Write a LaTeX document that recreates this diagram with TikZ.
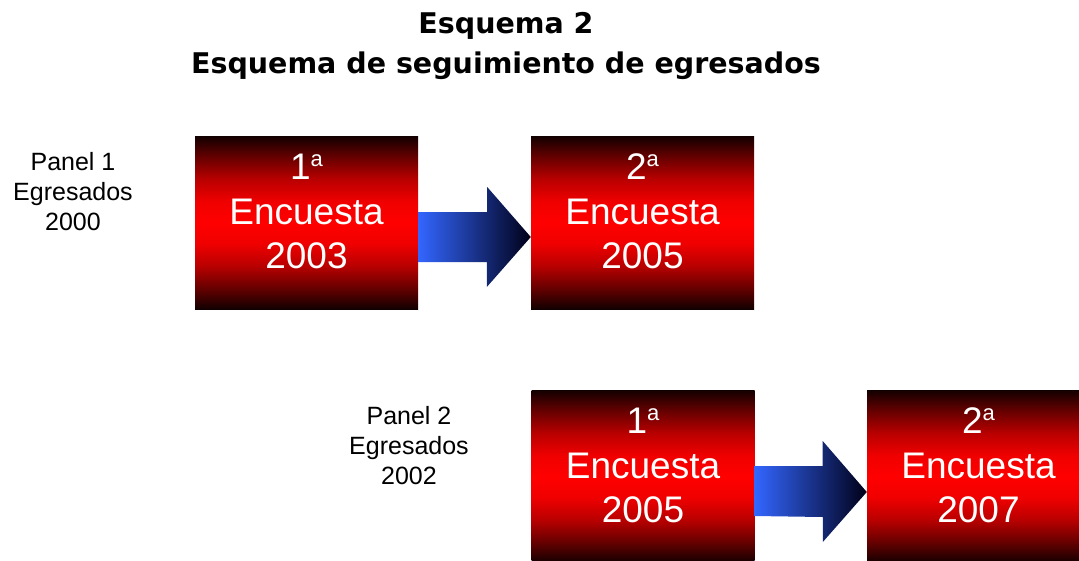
\documentclass[tikz,border=0pt]{standalone}
\usepackage{fontspec}
\setmainfont{Liberation Sans}
\newfontfamily\titulo{DejaVu Sans}
\usetikzlibrary{calc}
\definecolor{azulflecha}{RGB}{51,102,255}
\definecolor{azulmedio}{RGB}{38,76,196}
\definecolor{negroazul}{RGB}{0,0,24}
\definecolor{negrocaja}{RGB}{18,0,0}
\definecolor{rojo1}{RGB}{95,0,0}
\definecolor{rojo2}{RGB}{185,0,0}
\definecolor{rojo3}{RGB}{240,0,0}
\pgfdeclareverticalshading{cajaroja}{100bp}{color(0bp)=(negrocaja); color(25bp)=(negrocaja);
    color(30.5bp)=(rojo1); color(37.5bp)=(rojo2); color(44bp)=(rojo3); color(50bp)=(red);
    color(56bp)=(rojo3); color(62.5bp)=(rojo2); color(69.5bp)=(rojo1);
    color(75bp)=(negrocaja); color(100bp)=(negrocaja)}
\newcommand{\ordinal}{\raisebox{13pt}{\fontsize{22}{22}\selectfont a}}
\tikzset{
    caja/.style={rectangle, minimum width=223pt, minimum height=173pt, inner sep=0pt,
        shading=cajaroja},
    textocaja/.style={text=white, align=center, inner sep=0pt,
        font=\fontsize{37}{44.5}\selectfont},
    panel/.style={align=center, inner sep=0pt, font=\fontsize{25}{30}\selectfont},
    flecha/.style={left color=azulflecha, middle color=azulmedio, right color=negroazul}
}

\begin{document}
\begin{tikzpicture}[x=1pt, y=1pt]
    \useasboundingbox (0,0) rectangle (1079,-560);
    \clip (0,0) rectangle (1079,-560);

    \node[align=center, inner sep=0pt, anchor=north,
        font=\titulo\bfseries\fontsize{28.5}{40}\selectfont] (TITULO) at (506,-12.5)
        {Esquema 2\\Esquema de seguimiento de egresados};

    \node[panel] (PANEL1) at (73,-192) {Panel 1\\Egresados\\2000};
    \node[panel] (PANEL2) at (409,-446) {Panel 2\\Egresados\\2002};

    \node[caja] (ENC1) at (306.5,-222.5) {};
    \node[caja] (ENC2) at (642.5,-222.5) {};
    \node[caja] (ENC3) at (643,-476.5) {};
    \node[caja] (ENC4) at (978.5,-476.5) {};

    \node[textocaja] (ENC1T) at ([yshift=11pt]ENC1.center) {1\ordinal\\Encuesta\\2003};
    \node[textocaja] (ENC2T) at ([yshift=11pt]ENC2.center) {2\ordinal\\Encuesta\\2005};
    \node[textocaja] (ENC3T) at ([yshift=11pt]ENC3.center) {1\ordinal\\Encuesta\\2005};
    \node[textocaja] (ENC4T) at ([yshift=11pt]ENC4.center) {2\ordinal\\Encuesta\\2007};

    \shade[flecha] ($(ENC1.east)+(0,10.5)$) -- ++(69,0) -- ++(0,25)
        -- ($(ENC2.west)+(0,-14.5)$) -- ++(-44,-50) -- ++(0,25)
        -- ($(ENC1.east)+(0,-39.5)$) -- cycle;
    \shade[flecha] ($(ENC3.east)+(0,10.5)$) -- ++(68,0) -- ++(0,25)
        -- ($(ENC4.west)+(0,-15.5)$) -- ++(-44,-50) -- ++(0,25)
        -- ($(ENC3.east)+(0,-39.5)$) -- cycle;

    % \draw[help lines] (0,0) grid[step=50] (1079,-560);
\end{tikzpicture}
\end{document}
